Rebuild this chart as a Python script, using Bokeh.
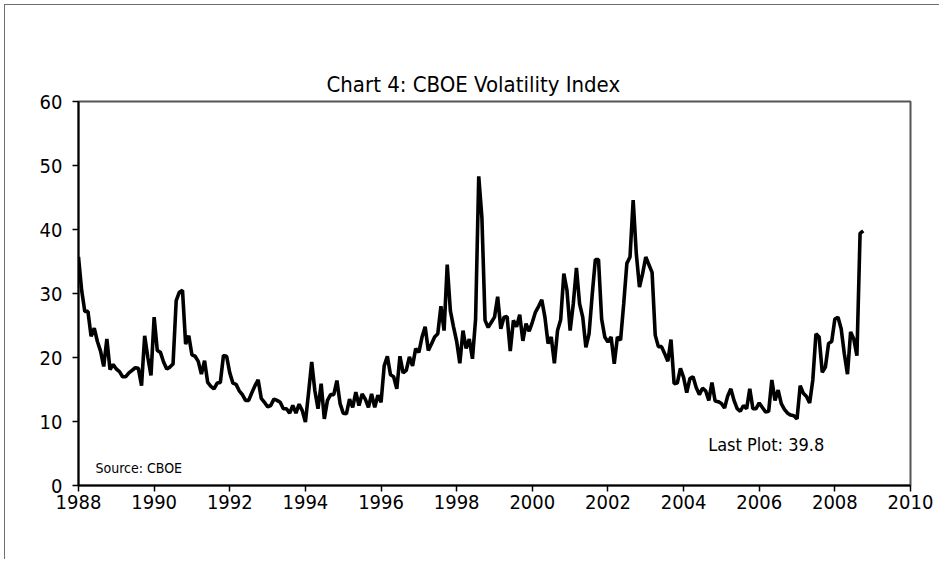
from bokeh.plotting import figure
from bokeh.models import ColumnDataSource, Label, FixedTicker, Range1d, LinearAxis
from bokeh.embed import file_html
from bokeh.resources import INLINE

# ---- data (monthly VIX) ----
start_year = 1988
vix_1988 = [35.7, 30.5, 27.2, 27.2, 23.3, 24.6, 22.5, 21.0, 18.6, 22.9, 18.1, 18.9]
vix_1989 = [18.2, 17.8, 17.0, 17.0, 17.6, 18.0, 18.4, 18.3, 15.6, 23.4, 20.0, 17.2]
vix_1990 = [26.3, 21.1, 20.8, 19.3, 18.2, 18.5, 19.0, 28.9, 30.2, 30.5, 22.1, 23.4]
vix_1991 = [20.4, 20.2, 19.4, 17.4, 19.5, 16.1, 15.5, 15.1, 16.0, 16.1, 20.3, 20.2]
vix_1992 = [17.6, 16.0, 15.8, 14.8, 14.2, 13.3, 13.3, 14.5, 15.6, 16.5, 13.6, 13.0]
vix_1993 = [12.3, 12.5, 13.5, 13.3, 13.0, 12.0, 12.0, 11.3, 12.5, 11.3, 12.7, 11.7]
vix_1994 = [9.9, 14.5, 19.3, 14.8, 12.0, 15.9, 10.4, 13.3, 14.2, 14.2, 16.4, 12.8]
vix_1995 = [11.3, 11.2, 13.5, 12.2, 14.6, 12.5, 14.3, 13.5, 12.2, 14.3, 12.2, 14.1]
vix_1996 = [13.0, 18.7, 20.2, 17.3, 17.0, 15.1, 20.2, 17.6, 18.0, 20.1, 18.7, 21.4]
vix_1997 = [20.8, 23.2, 24.8, 21.1, 22.1, 23.2, 23.7, 28.0, 24.2, 34.5, 27.3, 24.8]
vix_1998 = [22.5, 19.1, 24.2, 21.4, 22.9, 19.8, 26.0, 48.3, 41.9, 25.8, 24.7, 25.5]
vix_1999 = [26.3, 29.5, 24.5, 26.3, 26.4, 21.0, 25.8, 24.8, 26.7, 22.6, 25.3, 24.1]
vix_2000 = [25.5, 27.1, 28.0, 29.0, 26.3, 22.2, 23.2, 19.1, 24.2, 25.9, 33.1, 30.5]
vix_2001 = [24.2, 28.4, 34.0, 28.4, 26.3, 21.6, 23.7, 29.8, 35.3, 35.3, 26.0, 23.2]
vix_2002 = [22.4, 23.2, 19.0, 23.2, 22.7, 28.4, 34.7, 35.7, 44.6, 36.2, 31.0, 33.1]
vix_2003 = [35.7, 34.5, 33.3, 23.5, 21.7, 21.7, 20.6, 19.4, 22.8, 15.9, 16.0, 18.3]
vix_2004 = [16.9, 14.5, 16.7, 17.0, 15.3, 14.2, 15.2, 14.8, 13.3, 16.1, 13.2, 13.1]
vix_2005 = [12.8, 12.1, 14.0, 15.1, 13.3, 12.0, 11.6, 12.5, 12.0, 15.1, 12.0, 12.0]
vix_2006 = [12.9, 12.2, 11.5, 11.6, 16.5, 13.3, 14.9, 12.8, 11.9, 11.3, 11.0, 10.9]
vix_2007 = [10.4, 15.6, 14.4, 13.9, 12.9, 16.5, 23.7, 23.2, 17.7, 18.5, 22.2, 22.5]
vix_2008 = [26.0, 26.3, 24.5, 20.6, 17.4, 24.0, 22.9, 20.3, 39.4, 39.8]

x_ticks = [1988, 1990, 1992, 1994, 1996, 1998, 2000, 2002, 2004, 2006, 2008, 2010]
y_ticks = [0, 10, 20, 30, 40, 50, 60]
title_text = "Chart 4: CBOE Volatility Index"
source_text = "Source: CBOE"
last_text = "Last Plot: 39.8"

years = [vix_1988, vix_1989, vix_1990, vix_1991, vix_1992, vix_1993, vix_1994,
         vix_1995, vix_1996, vix_1997, vix_1998, vix_1999, vix_2000, vix_2001,
         vix_2002, vix_2003, vix_2004, vix_2005, vix_2006, vix_2007, vix_2008]
xs, ys = [], []
for i, vals in enumerate(years):
    for m, v in enumerate(vals):
        xs.append(start_year + i + m / 12.0)
        ys.append(v)
src = ColumnDataSource(data=dict(x=xs, y=ys))

FONT = "DejaVu Sans Condensed, Roboto Condensed, Liberation Sans, sans-serif"

p = figure(width=935, height=555, output_backend="svg", toolbar_location=None,
           x_range=Range1d(1988, 2010), y_range=Range1d(0, 60),
           min_border_left=73, min_border_right=30, min_border_top=96,
           min_border_bottom=75)
p.styles = {"margin-left": "4px", "margin-top": "4px",
            "border-left": "1px solid #6e6e6e", "border-top": "1px solid #6e6e6e"}

p.title.text = title_text
p.title.align = "left"
p.title.offset = 248
p.title.standoff = 10
p.title.text_font = FONT
p.title.text_font_size = "22px"
p.title.text_font_style = "normal"
p.title.text_color = "black"

p.line("x", "y", source=src, line_color="black", line_width=3.6)

p.xgrid.visible = False
p.ygrid.visible = False
p.outline_line_color = "#555555"
p.outline_line_width = 2
p.background_fill_color = "white"
p.border_fill_color = "white"

for ax in (p.xaxis[0], p.yaxis[0]):
    ax.axis_line_color = "black"
    ax.axis_line_width = 2
    ax.major_tick_line_color = "black"
    ax.major_tick_line_width = 1.5
    ax.major_tick_in = 0
    ax.major_tick_out = 6
    ax.minor_tick_line_color = None
    ax.major_label_text_font = FONT
    ax.major_label_text_font_size = "20px"
    ax.major_label_text_color = "black"

p.xaxis.ticker = FixedTicker(ticks=x_ticks)
p.yaxis.ticker = FixedTicker(ticks=y_ticks)
p.xaxis.major_label_standoff = 3
p.yaxis.major_label_standoff = 10

p.add_layout(Label(x=1988.45, y=2.7, text=source_text, text_font=FONT,
                   text_font_size="14px", text_baseline="middle", text_color="black"))
p.add_layout(Label(x=2004.65, y=6.4, text=last_text, text_font=FONT,
                   text_font_size="18px", text_baseline="middle", text_color="black"))

# empty, invisible axis above the frame: only reserves space below the title
spacer = LinearAxis(ticker=FixedTicker(ticks=[]), axis_line_color=None,
                    major_tick_line_color=None, minor_tick_line_color=None,
                    major_tick_in=0, major_tick_out=46, major_label_standoff=4)
p.add_layout(spacer, "above")

open("out.html", "w").write(file_html(p, INLINE))
